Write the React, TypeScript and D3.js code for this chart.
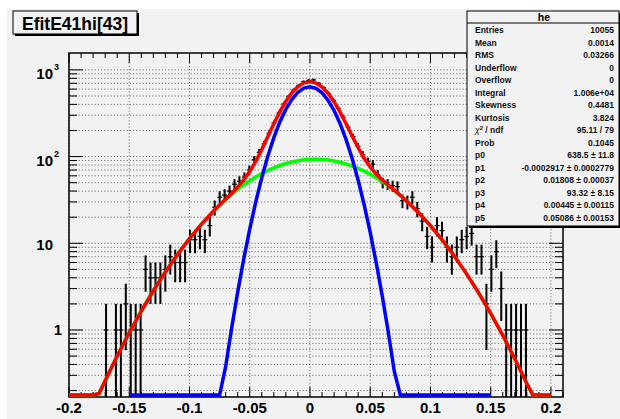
import React from 'react';
import * as d3 from 'd3';

// ---- histogram data (100 bins from -0.2 to 0.21) ----
const binRange = [-0.2, 0.21];
const counts = [0,0,0,0,0,0,0,1,0,1,1,2,1,1,1,5,4,4,4,5,7,6,6,6,11,11,12,11,16,26,34,36,40,48,52,58,70,92,112,140,186,245,318,405,495,585,660,730,755,765,700,625,535,445,360,285,218,170,132,105,88,82,62,50,48,46,45,31,30,34,25,18,12,9,16,14,9,7,9,11,12,13,7,7,2,5,8,3,1,1,1,1,1,0,0,0,0,0,0,0];

// ---- fit curves sampled ----
const fitX = [-0.2,-0.19,-0.18,-0.175,-0.17,-0.16,-0.15,-0.14,-0.13,-0.12,-0.11,-0.1,-0.09,-0.08,-0.075,-0.07,-0.065,-0.06,-0.055,-0.05,-0.045,-0.04,-0.035,-0.03,-0.025,-0.02,-0.015,-0.01,-0.005,0,0.005,0.01,0.015,0.02,0.025,0.03,0.035,0.04,0.045,0.05,0.055,0.06,0.065,0.07,0.075,0.08,0.09,0.1,0.11,0.12,0.13,0.14,0.15,0.16,0.17,0.18,0.185,0.19,0.2];
const fitTotal = [0.0289,0.0625,0.13,0.185,0.26,0.501,0.928,1.654,2.835,4.675,7.42,11.33,16.64,23.56,27.68,32.35,37.79,44.54,53.69,67.19,88.17,120.95,170.2,239.7,329.8,435.6,545.3,642.3,708.9,731.4,705.0,635.8,537.9,429.3,326.1,239.2,172.9,126.4,95.6,75.85,62.89,53.85,46.88,41.0,35.77,31.0,22.68,15.98,10.83,7.07,4.44,2.68,1.56,0.868,0.467,0.2415,0.171,0.12,0.0575];
const fitWide = [0.0289,0.0625,0.13,0.185,0.26,0.501,0.928,1.654,2.835,4.675,7.42,11.33,16.64,23.52,27.55,31.97,36.73,41.81,47.13,52.61,58.17,63.7,69.08,74.19,78.92,83.14,86.74,89.63,91.72,92.96,93.31,92.77,91.33,89.06,86.0,82.25,77.92,73.1,67.91,62.5,56.94,51.39,45.94,40.67,35.66,30.97,22.68,15.98,10.83,7.066,4.435,2.677,1.555,0.868,0.467,0.2415,0.171,0.12,0.0575];
const fitNarrow: (number | null)[] = [null,null,null,null,null,null,0,0,0,0,0,0,0,0.038,0.125,0.377,1.055,2.733,6.56,14.58,30.0,57.25,101.1,165.5,250.9,352.5,458.6,552.7,617.2,638.4,611.7,543.0,446.6,340.2,240.1,156.9,95.0,53.3,27.7,13.35,5.95,2.457,0.94,0.333,0.109,0.03,0,0,0,0,0,0,0,null,null,null,null,null,null];

const xTickValues = [-0.2,-0.15,-0.1,-0.05,0,0.05,0.1,0.15,0.2];
const xTickLabels = ['-0.2','-0.15','-0.1','-0.05','0','0.05','0.1','0.15','0.2'];
const yDecades = [1, 10, 100, 1000];
const yDecadeBase = ['1', '10', '10', '10'];
const yDecadeExp = ['', '', '2', '3'];

const title = 'EfitE41hi[43]';
const statName = 'he';
const statLabels = ['Entries','Mean','RMS','Underflow','Overflow','Integral','Skewness','Kurtosis','CHI2','Prob','p0','p1','p2','p3','p4','p5'];
const statValues = ['10055','0.0014','0.03266','0','0','1.006e+04','0.4481','3.824','95.11 / 79','0.1045','638.5 \u00b1 11.8','-0.0002917 \u00b1 0.0002779','0.01808 \u00b1 0.00037','93.32 \u00b1 8.15','0.00445 \u00b1 0.00115','0.05086 \u00b1 0.00153'];

const W = 620, H = 419;
const L = 69, R = 563, T = 53, B = 397;
const yMin = 0.1687, yMax = 1566;
const BG = '#f2f2f2';
const FONT = '"Liberation Sans", Arial, Helvetica, sans-serif';

export default function App() {
  const x = d3.scaleLinear().domain(binRange).range([L, R]);
  const y = d3.scaleLog().domain([yMin, yMax]).range([B, T]);
  const cy = (v: number) => y(Math.min(Math.max(v, yMin), yMax));
  const cyCurve = (v: number) => Math.min(y(Math.min(Math.max(v, yMin), yMax)), B - 2);
  const nb = counts.length;
  const bw = (binRange[1] - binRange[0]) / nb;

  const mkLine = (vals: (number | null)[]) => {
    const pts: [number, number][] = [];
    vals.forEach((v, i) => { if (v !== null) pts.push([fitX[i], v]); });
    return d3.line<[number, number]>().x(d => x(d[0])).y(d => cyCurve(d[1]))(pts) || '';
  };

  const yTicks: { v: number; major: boolean }[] = [];
  for (let k = -1; k <= 3; k++) {
    for (let m = 1; m <= 9; m++) {
      const v = m * Math.pow(10, k);
      if (v >= yMin && v <= yMax) yTicks.push({ v, major: m === 1 });
    }
  }
  const xTicks: { v: number; major: boolean }[] = [];
  for (let k = -20; k <= 21; k++) {
    const v = k / 100;
    xTicks.push({ v, major: k % 5 === 0 });
  }

  const bars = counts.map((c, i) => {
    if (c <= 0) return null;
    const lo = binRange[0] + i * bw;
    const cx = x(lo + bw / 2);
    const e = Math.sqrt(c);
    const top = cy(c + e);
    const bot = c - e > yMin ? y(c - e) : B;
    return (
      <g key={i}>
        <line x1={cx} x2={cx} y1={top} y2={bot} stroke="#000" strokeWidth={2} />
        <line x1={x(lo)} x2={x(lo + bw)} y1={cy(c)} y2={cy(c)} stroke="#000" strokeWidth={1.2} />
      </g>
    );
  });

  const statTop = 11, statLeft = 467, statRight = 619, statBottom = 226;
  const rowY0 = 33, rowDy = 12.53;

  return (
    <svg width={W} height={H} style={{ position: 'absolute', left: 0, top: 0 }} fontFamily={FONT}>
      <rect x={0} y={0} width={W} height={H} fill="#ffffff" />
      <rect x={7} y={9} width={W - 7} height={H - 9} fill={BG} />
      <defs>
        <clipPath id="frame"><rect x={L} y={T} width={R - L} height={B - T} /></clipPath>
        <clipPath id="frameC"><rect x={L} y={T} width={R - L} height={B - T + 1} /></clipPath>
      </defs>
      <g stroke="#777" strokeWidth={1} strokeDasharray="1.2 2">
        {yTicks.map((t, i) => (
          <line key={'gy' + i} x1={L} x2={R} y1={y(t.v)} y2={y(t.v)} />
        ))}
        {xTickValues.map((v, i) => (
          <line key={'gx' + i} x1={x(v)} x2={x(v)} y1={T} y2={B} />
        ))}
      </g>
      <g stroke="#000" strokeWidth={1}>
        {yTicks.map((t, i) => (
          <g key={'ty' + i}>
            <line x1={L} x2={L + (t.major ? 14 : 8)} y1={y(t.v)} y2={y(t.v)} />
            <line x1={R} x2={R - (t.major ? 14 : 8)} y1={y(t.v)} y2={y(t.v)} />
          </g>
        ))}
        {xTicks.map((t, i) => (
          <g key={'tx' + i}>
            <line x1={x(t.v)} x2={x(t.v)} y1={B} y2={B - (t.major ? 10 : 5)} />
            <line x1={x(t.v)} x2={x(t.v)} y1={T} y2={T + (t.major ? 10 : 5)} />
          </g>
        ))}
      </g>
      <rect x={L} y={T} width={R - L} height={B - T} fill="none" stroke="#000" strokeWidth={1.5} />
      <g clipPath="url(#frame)">{bars}</g>
      <g clipPath="url(#frameC)">
        <path d={mkLine(fitWide)} fill="none" stroke="#00ff00" strokeWidth={3.5} />
        <path d={mkLine(fitNarrow)} fill="none" stroke="#0000ff" strokeWidth={3.5} />
        <path d={mkLine(fitTotal)} fill="none" stroke="#ff0000" strokeWidth={3.5} />
      </g>
      <g fontSize={15} fontWeight="bold" textAnchor="middle" fill="#000">
        {xTickValues.map((v, i) => (
          <text key={'lx' + i} x={x(v)} y={413}>{xTickLabels[i]}</text>
        ))}
      </g>
      <g fontSize={15} fontWeight="bold" fill="#000">
        {yDecades.map((v, i) => (
          yDecadeExp[i] ? (
            <g key={'ly' + i}>
              <text x={53} y={y(v) + 9} textAnchor="end">{yDecadeBase[i]}</text>
              <text x={54} y={y(v) + 0} fontSize={9}>{yDecadeExp[i]}</text>
            </g>
          ) : (
            <text key={'ly' + i} x={yDecadeBase[i] === '1' ? 62 : 53} y={y(v) + (yDecadeBase[i] === '1' ? 5.5 : 6.5)} textAnchor="end">{yDecadeBase[i]}</text>
          )
        ))}
      </g>
      <rect x={15} y={13} width={124} height={23} fill="#000" />
      <rect x={13} y={11} width={124} height={23} fill={BG} stroke="#000" strokeWidth={1} />
      <text x={75} y={29.5} textAnchor="middle" fontSize={17.5} fontWeight="bold" fill="#000">{title}</text>
      <rect x={statLeft + 2} y={statTop + 2} width={statRight - statLeft} height={statBottom - statTop} fill="#000" />
      <rect x={statLeft} y={statTop} width={statRight - statLeft} height={statBottom - statTop} fill={BG} stroke="#000" strokeWidth={1} />
      <line x1={statLeft} x2={statRight} y1={23} y2={23} stroke="#000" strokeWidth={1} />
      <text x={(statLeft + statRight) / 2 + 1} y={21} textAnchor="middle" fontSize={10.5} fontWeight="bold">{statName}</text>
      <g fontSize={8.5} fontWeight="bold" fill="#111">
        {statLabels.map((lab, i) => (
          <g key={'s' + i}>
            {lab === 'CHI2' ? (
              <text x={475} y={rowY0 + i * rowDy}>
                <tspan fontStyle="italic" fontWeight="normal">{'\u03c7'}</tspan>
                <tspan dy={-3} fontSize={6}>2</tspan>
                <tspan dy={3}>{' / ndf'}</tspan>
              </text>
            ) : (
              <text x={475} y={rowY0 + i * rowDy}>{lab}</text>
            )}
            <text x={614} y={rowY0 + i * rowDy} textAnchor="end">{statValues[i]}</text>
          </g>
        ))}
      </g>
    </svg>
  );
}
